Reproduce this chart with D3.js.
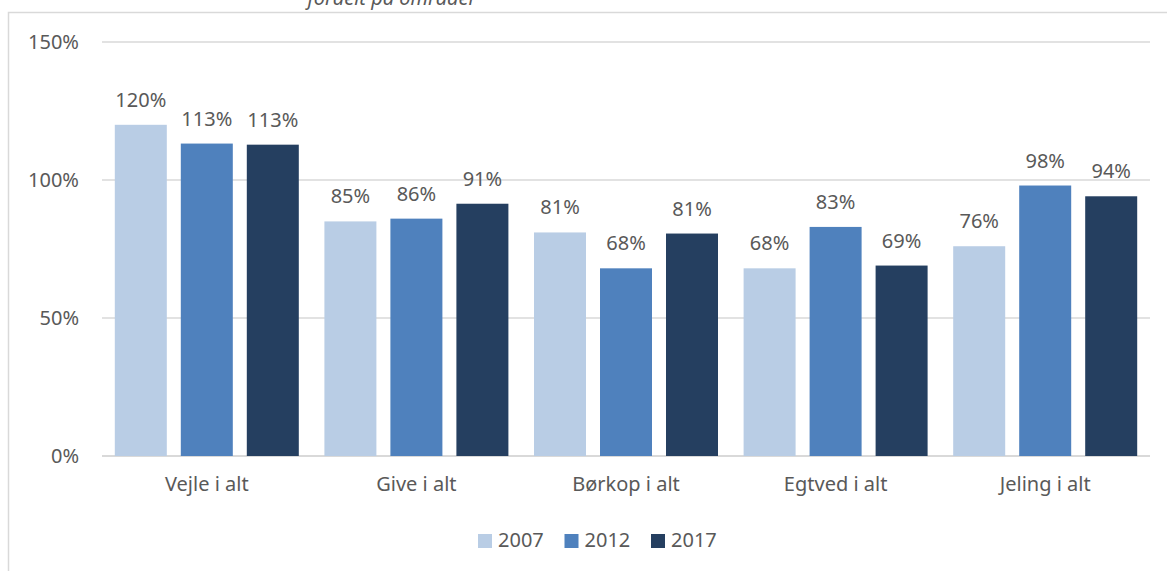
<!DOCTYPE html>
<html>
<head>
<meta charset="utf-8">
<script src="https://cdn.jsdelivr.net/npm/d3@7"></script>
<style>
  body { margin: 0; background: #fff; overflow: hidden; }
  svg { display: block; font-family: "Noto Sans", sans-serif; }
</style>
</head>
<body>
<div id="chart-container"></div>
<script>
// data
const categories = ["Vejle i alt", "Give i alt", "Børkop i alt", "Egtved i alt", "Jeling i alt"];
const years = ["2007", "2012", "2017"];
const values2007 = [1.20, 0.85, 0.81, 0.68, 0.76];
const values2012 = [1.132, 0.86, 0.68, 0.83, 0.98];
const values2017 = [1.128, 0.914, 0.806, 0.69, 0.941];
const yTicks = [0, 0.5, 1, 1.5];
const colors = ["#b9cde5", "#4f81bd", "#253f60"];

const width = 1167, height = 571;
const plot = { left: 102, right: 1150, top: 42, bottom: 456 };
const textColor = "#595959";

const series = [values2007, values2012, values2017];
const rows = categories.map((c, i) => ({
    cat: c,
    vals: years.map((y, j) => ({ year: y, idx: j, v: series[j][i] }))
}));

const svg = d3.select("#chart-container")
    .append("svg")
    .attr("width", width)
    .attr("height", height);

// chart frame (right/bottom edges fall outside the picture)
svg.append("rect")
    .attr("x", 8.5).attr("y", 12.5)
    .attr("width", 1300).attr("height", 700)
    .attr("fill", "none")
    .attr("stroke", "#d9d9d9")
    .attr("stroke-width", 1.5);

// title, mostly cut off at the top (as in the source picture)
svg.append("text")
    .attr("x", 392).attr("y", 5)
    .attr("text-anchor", "middle")
    .attr("font-style", "italic")
    .attr("font-size", 20)
    .attr("fill", textColor)
    .text("fordelt på områder");

const x0 = d3.scaleBand()
    .domain(categories)
    .range([plot.left, plot.right])
    .padding(0);

const groupPad = 12.8;
const x1 = d3.scaleBand()
    .domain(years)
    .range([groupPad, x0.bandwidth() - groupPad])
    .paddingInner(14 / 66)
    .paddingOuter(0);

const y = d3.scaleLinear()
    .domain([0, 1.5])
    .range([plot.bottom, plot.top]);

// gridlines
svg.append("g")
    .selectAll("line")
    .data(yTicks)
    .join("line")
    .attr("x1", plot.left).attr("x2", plot.right)
    .attr("y1", d => y(d)).attr("y2", d => y(d))
    .attr("stroke", "#d9d9d9")
    .attr("stroke-width", d => d === 0 ? 2 : 1.3);

// y axis labels
const yAxis = svg.append("g")
    .attr("transform", `translate(${plot.left},0)`)
    .call(d3.axisLeft(y).tickValues(yTicks).tickFormat(d3.format(".0%")).tickSize(0).tickPadding(23));
yAxis.select(".domain").remove();
yAxis.selectAll("text")
    .attr("font-size", 20)
    .attr("font-family", "Noto Sans, sans-serif")
    .attr("fill", textColor);

// bars
const groups = svg.append("g")
    .selectAll("g")
    .data(rows)
    .join("g")
    .attr("transform", d => `translate(${x0(d.cat)},0)`);

groups.selectAll("rect")
    .data(d => d.vals)
    .join("rect")
    .attr("x", d => x1(d.year))
    .attr("y", d => y(d.v))
    .attr("width", x1.bandwidth())
    .attr("height", d => plot.bottom - y(d.v))
    .attr("fill", d => colors[d.idx]);

// value labels
groups.selectAll("text")
    .data(d => d.vals)
    .join("text")
    .attr("x", d => x1(d.year) + x1.bandwidth() / 2)
    .attr("y", d => y(d.v) - 18)
    .attr("text-anchor", "middle")
    .attr("font-size", 20)
    .attr("fill", textColor)
    .text(d => d3.format(".0%")(d.v));

// x axis labels
const xAxis = svg.append("g")
    .attr("transform", `translate(0,${plot.bottom})`)
    .call(d3.axisBottom(x0).tickSize(0).tickPadding(21));
xAxis.select(".domain").remove();
xAxis.selectAll("text")
    .attr("font-size", 20)
    .attr("font-family", "Noto Sans, sans-serif")
    .attr("fill", textColor);

// legend
const legend = svg.append("g")
    .attr("transform", "translate(478,534)");
const item = legend.selectAll("g")
    .data(years)
    .join("g")
    .attr("transform", (d, i) => `translate(${i * 86.5},0)`);
item.append("rect")
    .attr("width", 14).attr("height", 14)
    .attr("fill", (d, i) => colors[i]);
item.append("text")
    .attr("x", 20).attr("y", 13)
    .attr("font-size", 20)
    .attr("fill", textColor)
    .text(d => d);
</script>
</body>
</html>
